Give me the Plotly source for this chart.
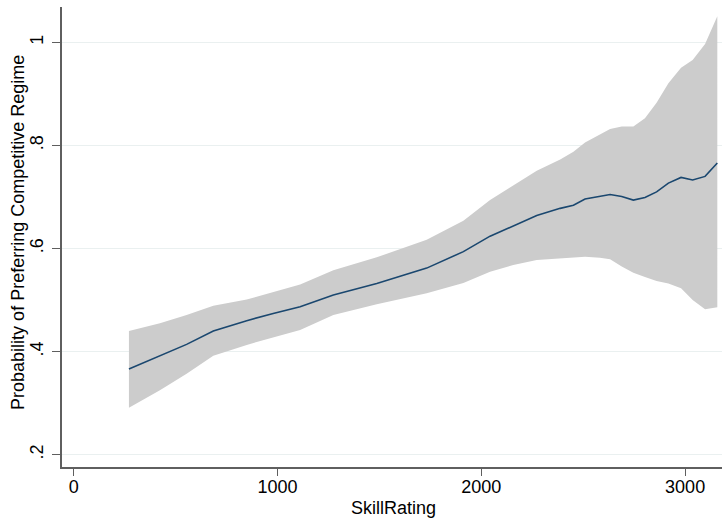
import plotly.graph_objects as go

skill = [271, 423, 554, 685, 849, 979, 1111, 1274, 1487, 1732, 1912, 2043, 2157, 2272,
         2387, 2452, 2509, 2582, 2632, 2689, 2746, 2803, 2860, 2918, 2980, 3037, 3098, 3158]
prob = [.366, .391, .414, .440, .460, .474, .487, .510, .532, .562, .594, .624, .644, .664,
        .678, .684, .696, .701, .705, .701, .694, .699, .710, .727, .738, .733, .740, .766]
upper = [.440, .455, .471, .489, .501, .516, .530, .558, .583, .617, .654, .694, .723, .751,
         .773, .788, .806, .821, .832, .837, .837, .853, .883, .921, .951, .966, .997, 1.051]
lower = [.291, .325, .357, .392, .413, .427, .442, .471, .492, .513, .533, .555, .568, .578,
         .581, .583, .584, .582, .579, .565, .553, .545, .537, .532, .523, .500, .482, .486]

x_ticks = [0, 1000, 2000, 3000]
y_ticks = [0.2, 0.4, 0.6, 0.8, 1.0]
y_labels = [".2", ".4", ".6", ".8", "1"]

font = "Liberation Sans, Arial, Helvetica, sans-serif"
axis_col = "#5f5f5f"

fig = go.Figure()
fig.add_trace(go.Scatter(x=skill, y=lower, mode="lines", line=dict(width=0, color="#cccccc"),
                         showlegend=False, hoverinfo="skip"))
fig.add_trace(go.Scatter(x=skill, y=upper, mode="lines", line=dict(width=0, color="#cccccc"),
                         fill="tonexty", fillcolor="#cccccc", showlegend=False, hoverinfo="skip"))
fig.add_trace(go.Scatter(x=skill, y=prob, mode="lines", line=dict(width=1.6, color="#1a476f"),
                         showlegend=False))

fig.update_layout(
    width=722, height=521,
    margin=dict(l=62, r=0, t=7, b=54),
    paper_bgcolor="white", plot_bgcolor="white",
    font=dict(family=font, size=18, color="black"),
    xaxis=dict(
        range=[-57.4, 3181], tickvals=x_ticks, ticktext=[str(v) for v in x_ticks],
        automargin=False,
        showgrid=False, zeroline=False, showline=True, linecolor=axis_col, linewidth=1.6,
        ticks="outside", ticklen=7, tickwidth=1.2, tickcolor=axis_col,
        tickfont=dict(size=18), ticklabelstandoff=-4,
    ),
    yaxis=dict(
        range=[0.176, 1.0688], tickvals=y_ticks, ticktext=y_labels, tickangle=-90,
        automargin=False,
        showgrid=True, gridcolor="#eaf0f0", gridwidth=1.2, zeroline=False,
        showline=True, linecolor=axis_col, linewidth=1.6,
        ticks="outside", ticklen=8, tickwidth=1.2, tickcolor=axis_col,
        tickfont=dict(size=18), ticklabelstandoff=2,
    ),
    annotations=[
        dict(text="SkillRating", xref="paper", yref="paper", x=0.503, y=-0.09,
             xanchor="center", yanchor="middle", showarrow=False, font=dict(size=18)),
        dict(text="Probability of Preferring Competitive Regime", xref="paper", yref="paper",
             x=-0.0667, y=0.511, xanchor="center", yanchor="middle", textangle=-90,
             showarrow=False, font=dict(size=18)),
    ],
)

fig.write_html("out.html", config={"displayModeBar": False},
               post_script="document.body.style.margin='0';document.body.style.padding='0';")
